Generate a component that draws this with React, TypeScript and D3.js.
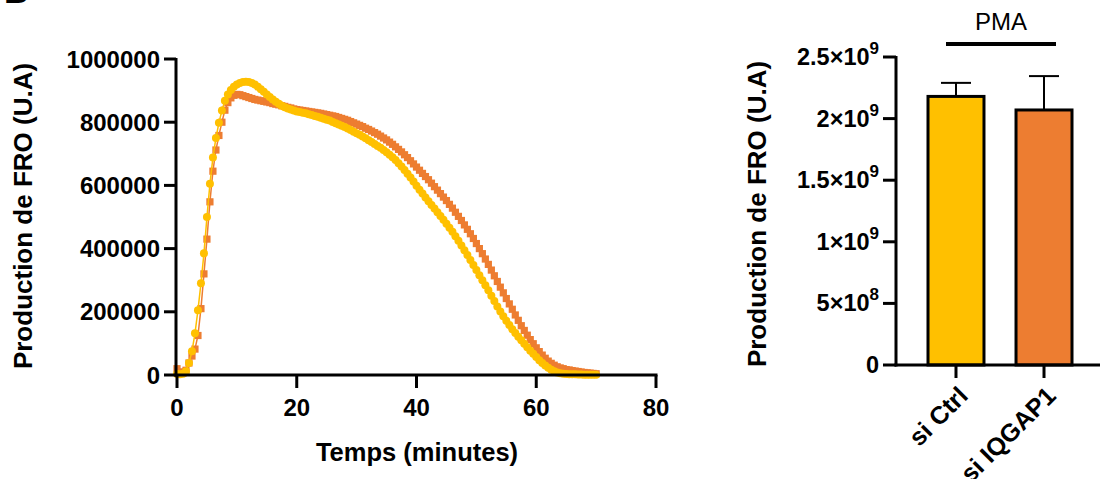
import React from "react";
import * as d3 from "d3";

// ---------- DATA ----------
// Kinetics: time in minutes (every 0.5 min from 0 to 70), values in thousands of U.A
const timeStep = 0.5;
const siCtrlKinetic = [
  3, 2, 4, 12, 38, 75, 132, 205, 290, 385, 500, 605, 688, 750, 798, 837, 868, 888, 902, 912, 919,
  924, 927, 928, 927, 924, 919, 912, 904, 896, 888, 880, 872, 865, 858, 852, 847, 843, 840, 837, 834,
  832, 830, 828, 825.5, 823, 820, 817, 814, 811, 808, 805, 801, 797, 793, 789, 785, 780, 775, 770, 765,
  760, 755, 749, 743, 737, 731, 725, 719, 712, 705, 697, 689, 680, 670, 660, 649, 637, 625, 612, 599,
  586, 574, 562, 550, 538, 527, 515, 503, 491, 479, 466, 453, 439, 425, 410, 395, 380, 364, 348, 332,
  316, 300, 284, 268, 251, 234, 217, 201, 186, 172, 158, 145, 133, 121, 110, 99, 88, 77, 67, 57,
  47, 38, 30, 23, 17, 12, 8, 5.5, 4, 3, 2.5, 2, 2, 1.5, 1.5, 1, 1, 1, 1, 1,
];
const siIQGAP1Kinetic = [
  20, 10, 6, 15, 38, 60, 82, 125, 210, 320, 430, 548, 645, 712, 758, 800, 838, 862, 877, 885, 888,
  887, 884, 881, 878, 875, 872, 870, 868, 866, 864, 862, 859, 857, 855, 852, 850, 847, 845, 842, 840,
  838.5, 837, 835.5, 834, 832.5, 831, 829.5, 828, 826, 824, 822, 820, 818, 815, 812, 809, 806, 802, 798, 794,
  790, 786, 781, 777, 772, 767, 762, 756, 750, 744, 737, 730, 722, 714, 706, 697, 688, 678, 668, 658,
  648, 638, 628, 618, 607, 596, 585, 574, 563, 552, 540, 528, 515, 502, 489, 475, 461, 447, 432, 416,
  400, 384, 367, 350, 332, 314, 296, 278, 260, 242, 225, 208, 190, 173, 156, 141, 126, 112, 99, 86,
  74, 63, 53, 44, 37, 31, 26, 22.5, 20, 17, 16, 14, 12.5, 11, 9.5, 8, 7, 6, 5, 4,
];
const kineticUnit = 1000;
const lineXTicks = [0, 20, 40, 60, 80];
const lineYTicks = [0, 200000, 400000, 600000, 800000, 1000000];

// Bar chart
const barCategories = ["si Ctrl", "si IQGAP1"];
const barMeans = [2.18e9, 2.07e9];
const barErrors = [0.11e9, 0.275e9];
const barYTicks = [0, 5e8, 1e9, 1.5e9, 2e9, 2.5e9];
const barYTickMantissa = ["0", "5", "1", "1.5", "2", "2.5"];
const barYTickExp = ["", "8", "9", "9", "9", "9"];

const YELLOW = "#FFC000";
const ORANGE = "#ED7D31";
const FONT = "Arial, 'Liberation Sans', Helvetica, sans-serif";

export default function App() {
  // line chart scales
  const x = d3.scaleLinear().domain([0, 80]).range([177, 656]);
  const y = d3.scaleLinear().domain([0, 1000000]).range([375, 59]);
  const toPts = (arr: number[]) => arr.map((v, i) => [i * timeStep, v * kineticUnit] as [number, number]);
  const ctrlPts = toPts(siCtrlKinetic);
  const iqPts = toPts(siIQGAP1Kinetic);
  const line = d3
    .line<[number, number]>()
    .x((d) => x(d[0]))
    .y((d) => y(d[1]));

  // bar chart scales
  const bx = d3.scaleBand().domain(barCategories).range([928, 1072]).paddingInner(0.364).paddingOuter(0.0);
  const by = d3.scaleLinear().domain([0, 2.5e9]).range([365, 57]);
  const barColors = [YELLOW, ORANGE];
  const sq = 7.2;

  return (
    <svg
      width={1100}
      height={479}
      style={{ position: "absolute", left: 0, top: 0, background: "#fff" }}
      fontFamily={FONT}
    >
      {/* panel letter (cut off) */}
      <text x={4} y={3} fontSize={34} fontWeight="bold">B</text>

      {/* ---------- Line chart ---------- */}
      <g>
        {/* series: orange first, yellow on top */}
        <path d={line(iqPts) || ""} fill="none" stroke={ORANGE} strokeWidth={1.5} />
        {iqPts.map((d, i) => (
          <rect key={"o" + i} x={x(d[0]) - sq / 2} y={y(d[1]) - sq / 2} width={sq} height={sq} fill={ORANGE} />
        ))}
        <path d={line(ctrlPts) || ""} fill="none" stroke={YELLOW} strokeWidth={1.5} />
        {ctrlPts.map((d, i) => (
          <circle key={"y" + i} cx={x(d[0])} cy={y(d[1])} r={4} fill={YELLOW} />
        ))}

        {/* axes */}
        <line x1={176} x2={176} y1={y(1000000) - 1} y2={y(0) + 1.5} stroke="#000" strokeWidth={3} />
        <line x1={174.5} x2={x(80) + 1.5} y1={y(0)} y2={y(0)} stroke="#000" strokeWidth={3} />
        {lineYTicks.map((t) => (
          <g key={"ly" + t}>
            <line x1={164} x2={176} y1={y(t)} y2={y(t)} stroke="#000" strokeWidth={3} />
            <text x={160} y={y(t)} textAnchor="end" dominantBaseline="central" fontSize={24} fontWeight="bold">
              {t}
            </text>
          </g>
        ))}
        {lineXTicks.map((t) => (
          <g key={"lx" + t}>
            <line x1={x(t)} x2={x(t)} y1={y(0)} y2={y(0) + 13} stroke="#000" strokeWidth={3} />
            <text x={x(t)} y={407} textAnchor="middle" dominantBaseline="central" fontSize={24} fontWeight="bold">
              {t}
            </text>
          </g>
        ))}
        <text x={417} y={452} textAnchor="middle" dominantBaseline="central" fontSize={25.5} fontWeight="bold">
          Temps (minutes)
        </text>
        <text
          transform={`translate(23,216) rotate(-90)`}
          textAnchor="middle"
          dominantBaseline="central"
          fontSize={26}
          fontWeight="bold"
        >
          Production de FRO (U.A)
        </text>
      </g>

      {/* ---------- Bar chart ---------- */}
      <g>
        {barCategories.map((c, i) => {
          const bw = bx.bandwidth();
          const cx = (bx(c) as number) + bw / 2;
          return (
            <g key={c}>
              <line x1={cx} x2={cx} y1={by(barMeans[i])} y2={by(barMeans[i] + barErrors[i])} stroke="#000" strokeWidth={2} />
              <line x1={cx - 15} x2={cx + 15} y1={by(barMeans[i] + barErrors[i])} y2={by(barMeans[i] + barErrors[i])} stroke="#000" strokeWidth={2} />
              <rect
                x={bx(c) as number}
                y={by(barMeans[i])}
                width={bw}
                height={by(0) - by(barMeans[i])}
                fill={barColors[i]}
                stroke="#000"
                strokeWidth={3}
              />
              <line x1={cx} x2={cx} y1={by(0)} y2={by(0) + 13} stroke="#000" strokeWidth={3} />
              <text
                transform={`translate(${cx + 7},${by(0) + 26}) rotate(-45)`}
                textAnchor="end"
                dominantBaseline="central"
                fontSize={25}
                fontWeight="bold"
              >
                {c}
              </text>
            </g>
          );
        })}
        <line x1={896} x2={896} y1={by(2.5e9) - 1} y2={by(0) + 1.5} stroke="#000" strokeWidth={3} />
        <line x1={894.5} x2={1100} y1={by(0)} y2={by(0)} stroke="#000" strokeWidth={3} />
        {barYTicks.map((t, i) => (
          <g key={"by" + t}>
            <line x1={883} x2={896} y1={by(t)} y2={by(t)} stroke="#000" strokeWidth={3} />
            <text x={879} y={by(t)} textAnchor="end" dominantBaseline="central" fontSize={23.5} fontWeight="bold">
              {barYTickExp[i] ? (
                <>
                  <tspan>{barYTickMantissa[i]}×10</tspan>
                  <tspan dy={-9} fontSize={17}>{barYTickExp[i]}</tspan>
                </>
              ) : (
                barYTickMantissa[i]
              )}
            </text>
          </g>
        ))}
        <text
          transform={`translate(757,214) rotate(-90)`}
          textAnchor="middle"
          dominantBaseline="central"
          fontSize={26}
          fontWeight="bold"
        >
          Production de FRO (U.A)
        </text>
        <line x1={946} x2={1056} y1={44} y2={44} stroke="#000" strokeWidth={4} />
        <text x={1001} y={21} textAnchor="middle" dominantBaseline="central" fontSize={24}>
          PMA
        </text>
      </g>
    </svg>
  );
}
